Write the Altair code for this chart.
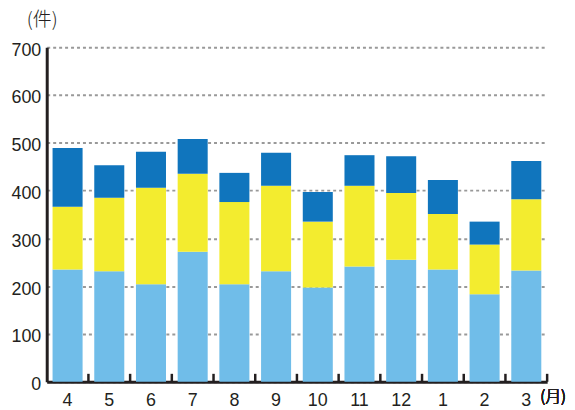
import altair as alt
import pandas as pd

months = ["4", "5", "6", "7", "8", "9", "10", "11", "12", "1", "2", "3"]
series = ["下段", "中段", "上段"]
light = [235, 231, 204, 272, 204, 231, 197, 241, 255, 235, 183, 233]
yellow = [131, 154, 202, 163, 172, 179, 138, 169, 140, 116, 104, 149]
dark = [123, 68, 75, 73, 61, 69, 62, 64, 77, 71, 48, 80]
colors = ["#70bde9", "#f3ec2f", "#1075bd"]
y_ticks = [0, 100, 200, 300, 400, 500, 600, 700]

rows = []
for vals, name, k in zip([light, yellow, dark], series, range(3)):
    for m, v in zip(months, vals):
        rows.append({"month": m, "series": name, "value": v, "k": k})
df = pd.DataFrame(rows)
mdf = pd.DataFrame({"month": months})

FONT = "Liberation Sans"
xscale = alt.Scale(domain=months, paddingInner=0, paddingOuter=0)

bars = alt.Chart(df).mark_bar(width=alt.RelativeBandSize(0.72)).encode(
    x=alt.X("month:N", scale=xscale, sort=months,
            axis=alt.Axis(title=None, labelAngle=0, labelFontSize=18, labelFont=FONT,
                          labelColor="#231f20", labelPadding=10, ticks=False,
                          domain=True, domainColor="#231f20", domainWidth=3, grid=False)),
    y=alt.Y("value:Q", stack="zero",
            scale=alt.Scale(domain=[0, 700], nice=False),
            axis=alt.Axis(title=None, values=y_ticks, labelFontSize=18, labelFont=FONT,
                          labelColor="#231f20", labelPadding=6, labelOffset=3, ticks=False,
                          domain=True, domainColor="#231f20", domainWidth=3,
                          grid=True, gridColor="#999999", gridDash=[3, 3], gridWidth=2)),
    color=alt.Color("series:N", scale=alt.Scale(domain=series, range=colors), legend=None),
    order=alt.Order("k:Q"),
)

ticks = alt.Chart(mdf).mark_rule(color="#231f20", strokeWidth=2.5).encode(
    x=alt.X("month:N", scale=xscale, sort=months, bandPosition=1),
    y=alt.value(337),
    y2=alt.value(329),
)

unit_x = alt.Chart(mdf).mark_text(text="(月)", fontSize=16, font="Noto Sans CJK JP",
                                  fontWeight=300, color="#231f20", align="left").encode(
    x=alt.value(497), y=alt.value(352))

chart = alt.layer(bars, ticks, unit_x).properties(
    width=504, height=337,
    title=alt.Title("(件)", anchor="start", frame="group", dx=-20, offset=11,
                    fontSize=19, font="Noto Sans CJK JP", fontWeight=300, color="#231f20"),
    autosize=alt.AutoSizeParams(type="none"),
    padding={"left": 39, "top": 38, "right": 20, "bottom": 27},
).configure_view(stroke=None)

chart.save("out.html", embed_options={"renderer": "svg", "actions": False})
